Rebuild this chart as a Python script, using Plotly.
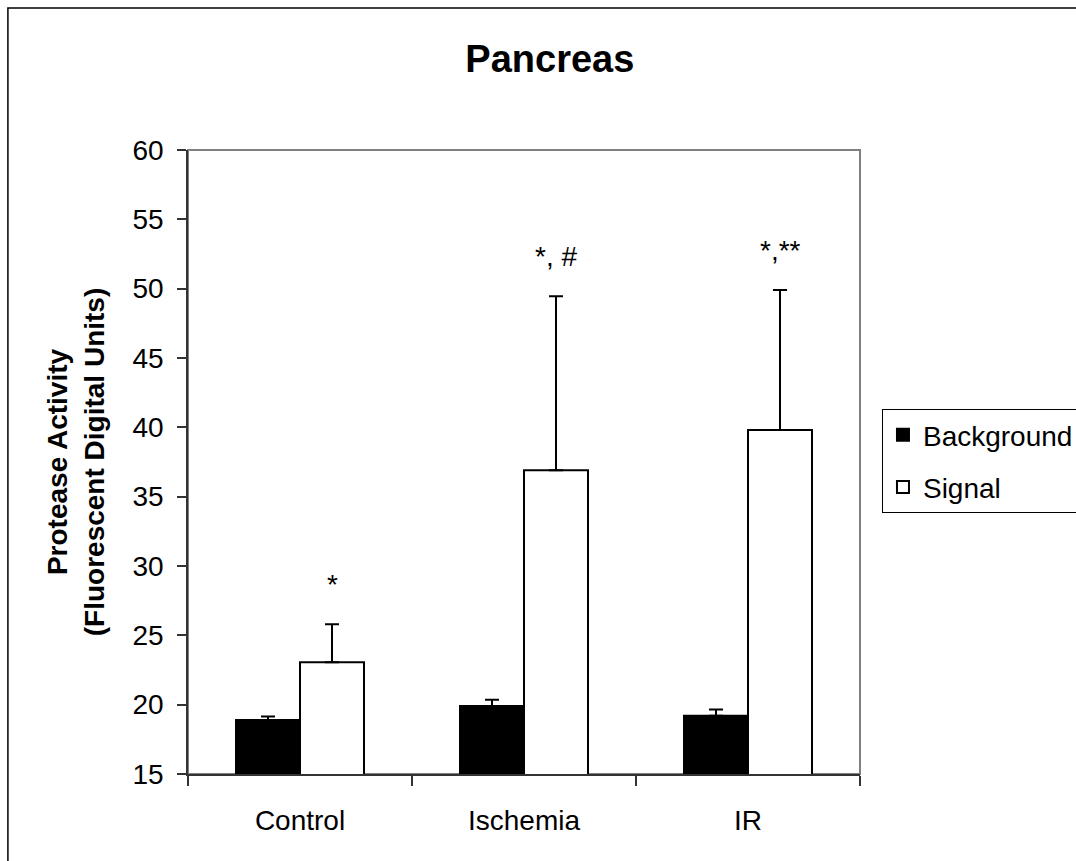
import plotly.graph_objects as go

categories = ["Control", "Ischemia", "IR"]
background = [18.9, 19.9, 19.2]
background_err = [0.25, 0.45, 0.45]
signal = [23.05, 36.9, 39.8]
signal_err = [2.75, 12.55, 10.1]
sig_labels = ["*", "*, #", "*,**"]
y_ticks = [15, 20, 25, 30, 35, 40, 45, 50, 55, 60]

FONT = "Liberation Sans, Arial, sans-serif"

fig = go.Figure()
fig.add_trace(go.Bar(
    name="Background", x=categories, y=background, legendgroup="bg",
    marker=dict(color="black", line=dict(color="black", width=2)),
    error_y=dict(type="data", array=background_err, arrayminus=[0] * 3,
                 symmetric=False, color="black", thickness=2, width=7),
))
fig.add_trace(go.Bar(
    name="Signal", x=categories, y=signal, legendgroup="sig",
    marker=dict(color="white", line=dict(color="black", width=2)),
    error_y=dict(type="data", array=signal_err, arrayminus=[0] * 3,
                 symmetric=False, color="black", thickness=2, width=7),
))

for cat, val, err, lab in zip(categories, signal, signal_err, sig_labels):
    fig.add_annotation(x=cat, y=val + err, xref="x", yref="y", text=lab,
                       showarrow=False, xshift=32, yshift=40, yanchor="middle",
                       font=dict(family=FONT, size=28, color="black"))

# outer chart border
fig.add_shape(type="rect", xref="paper", yref="paper",
              x0=-0.268, x1=2.0, y0=-1.0, y1=1.2276,
              line=dict(color="black", width=1.5), layer="below")
# plot area frame
fig.add_shape(type="rect", xref="paper", yref="paper",
              x0=0, x1=1, y0=0, y1=1,
              line=dict(color="#808080", width=2), layer="below")

fig.update_layout(
    width=1076, height=861, autosize=False,
    margin=dict(l=188, r=216, t=150, b=87, autoexpand=False),
    paper_bgcolor="white", plot_bgcolor="white",
    barmode="group", bargap=0.4286, bargroupgap=0,
    font=dict(family=FONT, size=28, color="black"),
    title=dict(text="<b>Pancreas</b>", x=0.511, xanchor="center",
               y=1 - 58.5 / 861, yanchor="middle",
               font=dict(family=FONT, size=38, color="black")),
    legend=dict(x=1.0327, xanchor="left", y=0.585, yanchor="top",
                bordercolor="black", borderwidth=1, bgcolor="white",
                tracegroupgap=13,
                font=dict(family=FONT, size=28, color="black")),
    showlegend=True,
)
fig.update_xaxes(
    showline=True, linecolor="#333333", linewidth=1.5,
    ticks="outside", ticklen=10, tickcolor="#333333", tickwidth=1.5,
    tickson="boundaries", showgrid=False, zeroline=False,
    tickfont=dict(family=FONT, size=28), ticklabelstandoff=21,
)
fig.update_yaxes(
    range=[15, 60], tickvals=y_ticks, showline=True, linecolor="#333333",
    linewidth=1.5, ticks="outside", ticklen=9, tickcolor="#333333",
    tickwidth=1.5, showgrid=False, zeroline=False,
    tickfont=dict(family=FONT, size=28), ticklabelstandoff=8,
    title=dict(text="<b>Protease Activity<br>(Fluorescent Digital Units)</b>",
               font=dict(family=FONT, size=28), standoff=20),
)

fig.write_html("out.html")
